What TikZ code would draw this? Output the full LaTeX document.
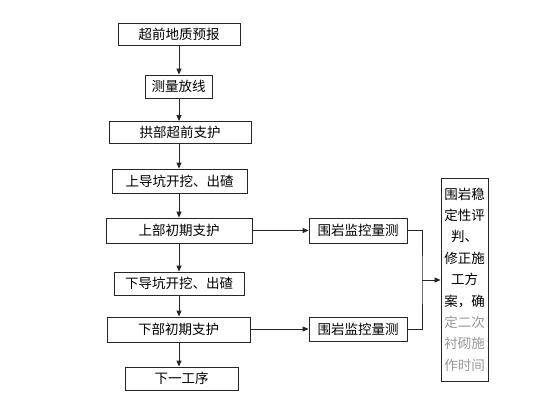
\documentclass[tikz,border=0pt]{standalone}
\usepackage{fontspec}
\newfontfamily\cjk{Noto Sans CJK SC}
\usetikzlibrary{arrows.meta}
\begin{document}
\begin{tikzpicture}[x=1pt,y=-1pt,
  box/.style={draw=black!85,line width=0.8pt,fill=white,inner sep=0pt,minimum height=24pt,font=\cjk\fontsize{13.5}{15}\selectfont},
  conn/.style={draw=black!85,line width=0.8pt},
  arr/.style={conn,-{Triangle[length=6pt,width=5pt]}}]
\useasboundingbox (0,0) rectangle (560,420);
\fill[white] (0,0) rectangle (560,420);
\node[box,minimum width=122pt,minimum height=22pt] (b1) at (179,34) {超前地质预报};
\node[box,minimum width=67pt,minimum height=23pt] (b2) at (178.5,86.5) {测量放线};
\node[box,minimum width=142pt,minimum height=22pt] (b3) at (180,132.5) {拱部超前支护};
\node[box,minimum width=135pt] (b4) at (179.5,181) {上导坑开挖、出碴};
\node[box,minimum width=146pt,minimum height=25pt] (b5) at (179,230.5) {上部初期支护};
\node[box,minimum width=130pt,minimum height=23pt] (b6) at (179,283.5) {下导坑开挖、出碴};
\node[box,minimum width=143pt,minimum height=25pt] (b7) at (178.5,329.5) {下部初期支护};
\node[box,minimum width=113pt,minimum height=23pt] (b8) at (181.5,378.5) {下一工序};
\node[box,minimum width=98pt,minimum height=25pt] (m1) at (358,230.5) {围岩监控量测};
\node[box,minimum width=98pt,minimum height=24pt] (m2) at (358,329) {围岩监控量测};
\node[box,minimum width=47pt,minimum height=203pt,align=center,font=\cjk\fontsize{13.5}{21.4}\selectfont] (big) at (464.5,279.5)
  {围岩稳\\定性评\\判、\\修正施\\工方\\案，确\\{\color{black!40}定二次}\\{\color{black!40}衬砌施}\\{\color{black!40}作时间}};
\coordinate (j) at (422,280);
\foreach \a/\b in {b1/b2,b2/b3,b3/b4,b4/b5,b5/b6,b6/b7}
  \draw[arr] (\a.south -| 179,0) -- (\b.north -| 179,0);
\draw[arr] (b7.south -| 179,0) -- (b8.north -| 179,0);
\draw[arr] (b5.east) -- (m1.west);
\draw[arr] (b7.east |- m2.west) -- (m2.west);
\draw[conn] (m1.east) -| (j) |- (m2.east);
\draw[arr] (j) -- (big.west |- j);
\end{tikzpicture}
\end{document}
